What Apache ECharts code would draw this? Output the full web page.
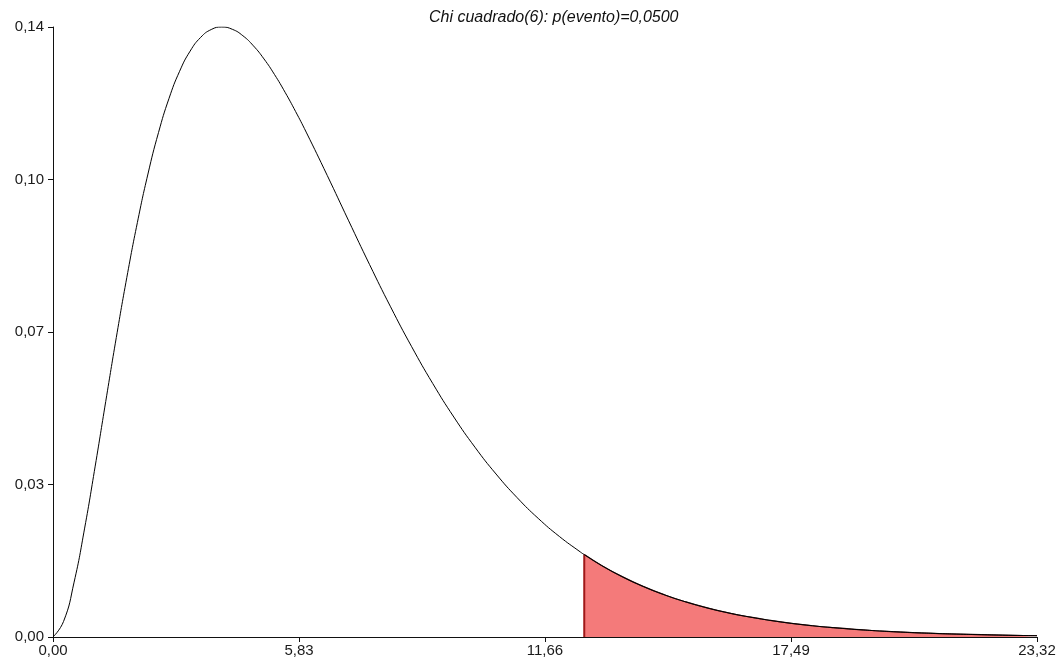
<!DOCTYPE html>
<html>
<head>
<meta charset="utf-8">
<script src="https://cdn.jsdelivr.net/npm/echarts@6/dist/echarts.min.js"></script>
<style>
  html, body { margin: 0; padding: 0; background: #fff; }
  #chart { width: 1064px; height: 667px; }
</style>
</head>
<body>
<div id="chart"></div>
<script>
// valores: densidad chi cuadrado(6)
const xValues = [0, 0.25, 0.5, 0.75, 1, 1.25, 1.5, 1.75, 2, 2.25, 2.5, 2.75, 3, 3.25, 3.5, 3.75, 4, 4.25, 4.5, 4.75, 5, 5.25, 5.5, 5.75,
  6, 6.5, 7, 7.5, 8, 8.5, 9, 9.5, 10, 10.5, 11, 11.5, 12, 12.5, 12.59,
  13, 13.5, 14, 14.5, 15, 15.5, 16, 16.5, 17, 17.5, 18, 18.5, 19, 19.5, 20, 20.5, 21, 21.5, 22, 22.5, 23, 23.32];
const yValues = [0, 0.00345, 0.01217, 0.02416, 0.03791, 0.05227, 0.06643, 0.07979, 0.09197, 0.10272, 0.11191, 0.11951, 0.12551, 0.12999,
  0.13304, 0.13478, 0.13534, 0.13483, 0.13340, 0.13116, 0.12826, 0.12479, 0.12086, 0.11658,
  0.11202, 0.10239, 0.09248, 0.08268, 0.07326, 0.06441, 0.05624, 0.04880, 0.04211, 0.03616, 0.03091, 0.02631, 0.02231, 0.01885, 0.01828,
  0.01588, 0.01334, 0.01117, 0.00933, 0.00778, 0.00647, 0.00537, 0.00445, 0.00368, 0.00303, 0.00250, 0.00206, 0.00169, 0.00139, 0.00114,
  0.00093, 0.00076, 0.00062, 0.00051, 0.00041, 0.00033, 0.00029];
const criticalX = 12.59;
const xMax = 23.32;
const yMax = 0.13534;
const xTickLabels = ['0,00', '5,83', '11,66', '17,49', '23,32'];
const yTickLabels = ['0,00', '0,03', '0,07', '0,10', '0,14'];
const titleText = 'Chi cuadrado(6): p(evento)=0,0500';

const curve = xValues.map((x, i) => [x, yValues[i]]);
const tail = curve.filter(p => p[0] >= criticalX);
const critY = yValues[xValues.indexOf(criticalX)];

const chart = echarts.init(document.getElementById('chart'), null, { renderer: 'canvas' });

const axisFont = { fontFamily: 'Liberation Sans, Arial, sans-serif', fontSize: 15, color: '#1a1a1a' };

chart.setOption({
    animation: false,
    backgroundColor: '#fff',
    title: {
        text: titleText,
        left: 424,
        top: 5,
        textStyle: { fontFamily: 'Liberation Sans, Arial, sans-serif', fontSize: 16, fontStyle: 'italic', fontWeight: 'normal', color: '#111' }
    },
    grid: { left: 53, right: 27, top: 27, bottom: 30 },
    xAxis: {
        type: 'value',
        min: 0,
        max: xMax,
        interval: xMax / 4,
        axisLine: { show: true, lineStyle: { color: '#111', width: 1 } },
        axisTick: { show: true, length: 5, lineStyle: { color: '#111' } },
        splitLine: { show: false },
        axisLabel: Object.assign({
            margin: 6,
            formatter: v => xTickLabels[Math.round(v / (xMax / 4))]
        }, axisFont)
    },
    yAxis: {
        type: 'value',
        min: 0,
        max: yMax,
        interval: yMax / 4,
        axisLine: { show: true, lineStyle: { color: '#111', width: 1 } },
        axisTick: { show: true, length: 5, lineStyle: { color: '#111' } },
        splitLine: { show: false },
        axisLabel: Object.assign({
            margin: 9,
            formatter: v => yTickLabels[Math.round(v / (yMax / 4))]
        }, axisFont)
    },
    series: [
        {
            type: 'line',
            data: tail,
            smooth: true,
            symbol: 'none',
            lineStyle: { color: '#3a1010', width: 1.2 },
            areaStyle: { color: '#f47a7a', opacity: 1 },
            z: 2
        },
        {
            type: 'line',
            data: [[criticalX, 0], [criticalX, critY]],
            symbol: 'none',
            lineStyle: { color: '#a01818', width: 2 },
            z: 3
        },
        {
            type: 'line',
            data: curve,
            smooth: true,
            symbol: 'none',
            lineStyle: { color: '#000', width: 1 },
            z: 4
        }
    ]
});
</script>
</body>
</html>
